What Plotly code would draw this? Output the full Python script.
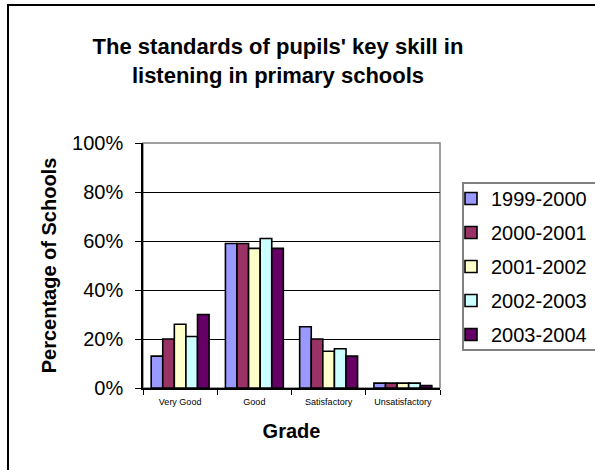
import plotly.graph_objects as go

# Share of schools at each grade, per school year (percent)
grades = ["Very Good", "Good", "Satisfactory", "Unsatisfactory"]
years = ["1999-2000", "2000-2001", "2001-2002", "2002-2003", "2003-2004"]
y1999_2000 = [13, 59, 25, 2]
y2000_2001 = [20, 59, 20, 2]
y2001_2002 = [26, 57, 15, 2]
y2002_2003 = [21, 61, 16, 2]
y2003_2004 = [30, 57, 13, 1]
series = [y1999_2000, y2000_2001, y2001_2002, y2002_2003, y2003_2004]
colors = ["#9999FF", "#993366", "#FFFFCC", "#CCFFFF", "#660066"]
y_tickvals = [0, 20, 40, 60, 80, 100]
y_ticktext = ["0%", "20%", "40%", "60%", "80%", "100%"]

FONT = "Liberation Sans, Arial, sans-serif"

W, H = 595, 470
L, R, T, B = 143, 155, 143, 82
pw, ph = W - L - R, H - T - B


def px_x(x):
    return (x - L) / pw


def px_y(y):
    return (H - B - y) / ph


fig = go.Figure()
for name, vals, col in zip(years, series, colors):
    fig.add_trace(go.Bar(
        x=grades, y=vals, name=name, legendgroup=name,
        marker=dict(color=col, line=dict(color="black", width=1.6)),
    ))

fig.update_layout(
    width=W, height=H,
    margin=dict(l=L, r=R, t=T, b=B, autoexpand=False),
    paper_bgcolor="white", plot_bgcolor="white",
    barmode="group", bargap=0.22, bargroupgap=0,
    font=dict(family=FONT, color="black"),
    title=dict(
        text="The standards of pupils' key skill in<br>listening in primary schools",
        font=dict(family=FONT, size=22, color="black", weight="bold"),
        x=278 / W, xanchor="center", xref="container",
        y=1 - 54 / H, yanchor="middle", yref="container",
    ),
    xaxis=dict(
        showline=True, linecolor="black", linewidth=1.5,
        ticks="outside", ticklen=5, tickcolor="black", tickwidth=1.2,
        tickson="boundaries", tickfont=dict(size=9), ticklabelstandoff=4,
        title=dict(text="Grade", font=dict(size=20, weight="bold"), standoff=18),
        showgrid=False,
    ),
    yaxis=dict(
        range=[0, 100], tickvals=y_tickvals, ticktext=y_ticktext,
        showline=True, linecolor="black", linewidth=1.5,
        ticks="outside", ticklen=6, tickcolor="black", tickwidth=1.2,
        tickfont=dict(size=20), ticklabelstandoff=8,
        showgrid=True, gridcolor="black", gridwidth=1.2,
        zeroline=False,
        title=dict(text="Percentage of Schools", font=dict(size=20, weight="bold"), standoff=10),
    ),
    legend=dict(
        x=px_x(451), y=px_y(179), xanchor="left", yanchor="top",
        bgcolor="rgba(0,0,0,0)", borderwidth=0,
        font=dict(size=20), tracegroupgap=5,
    ),
    shapes=[
        # grey plot-area frame
        dict(type="rect", xref="paper", yref="paper", x0=0, x1=1, y0=0, y1=1,
             line=dict(color="#808080", width=1.5), layer="between"),
        # outer chart frame
        dict(type="rect", xref="paper", yref="paper",
             x0=px_x(8), x1=px_x(620), y0=px_y(500), y1=px_y(5),
             line=dict(color="black", width=2), layer="below"),
        # legend box
        dict(type="rect", xref="paper", yref="paper",
             x0=px_x(463), x1=px_x(640), y0=px_y(350), y1=px_y(183),
             line=dict(color="#808080", width=2), fillcolor="white", layer="below"),
    ],
)

fig.write_html("out.html")
